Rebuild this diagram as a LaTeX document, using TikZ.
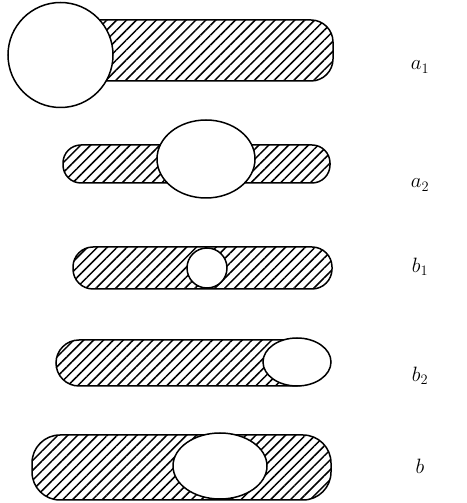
\documentclass[tikz,border=0pt]{standalone}
\usetikzlibrary{patterns.meta}
\begin{document}
\begin{tikzpicture}[x=1pt,y=1pt,
  bar/.style={draw, line width=1.5pt, pattern={Lines[angle=45,distance=7pt,line width=1.5pt]}},
  hole/.style={draw, line width=1.5pt, fill=white},
  lab/.style={font=\fontsize{20}{24}\selectfont, inner sep=0pt}]
\useasboundingbox (0,0) rectangle (466,503);
% a1
\draw[bar, rounded corners=22pt] (60,503-20) rectangle (333,503-81);
\draw[hole] (60.5,503-55) circle (52.5);
% a2
\draw[bar, rounded corners=18pt] (63,503-145) rectangle (330,503-183);
\draw[hole] (206,503-159) ellipse (49 and 39);
% b1
\draw[bar, rounded corners=20pt] (73,503-247) rectangle (332,503-289);
\draw[hole] (207,503-268) circle (20);
% b2
\draw[bar, rounded corners=23pt] (56,503-340) rectangle (318,503-386);
\draw[hole] (297,503-362) ellipse (34 and 24);
% b
\draw[bar, rounded corners=28pt] (32,503-435) rectangle (331,503-500);
\draw[hole] (220,503-466) ellipse (47 and 33);
% labels
\node[lab] (la1) at (420,503-67) {$a_1$};
\node[lab] (la2) at (420,503-185) {$a_2$};
\node[lab] (lb1) at (420,503-267) {$b_1$};
\node[lab] (lb2) at (420,503-376) {$b_2$};
\node[lab] (lb) at (420,503-466) {$b$};
\end{tikzpicture}
\end{document}
